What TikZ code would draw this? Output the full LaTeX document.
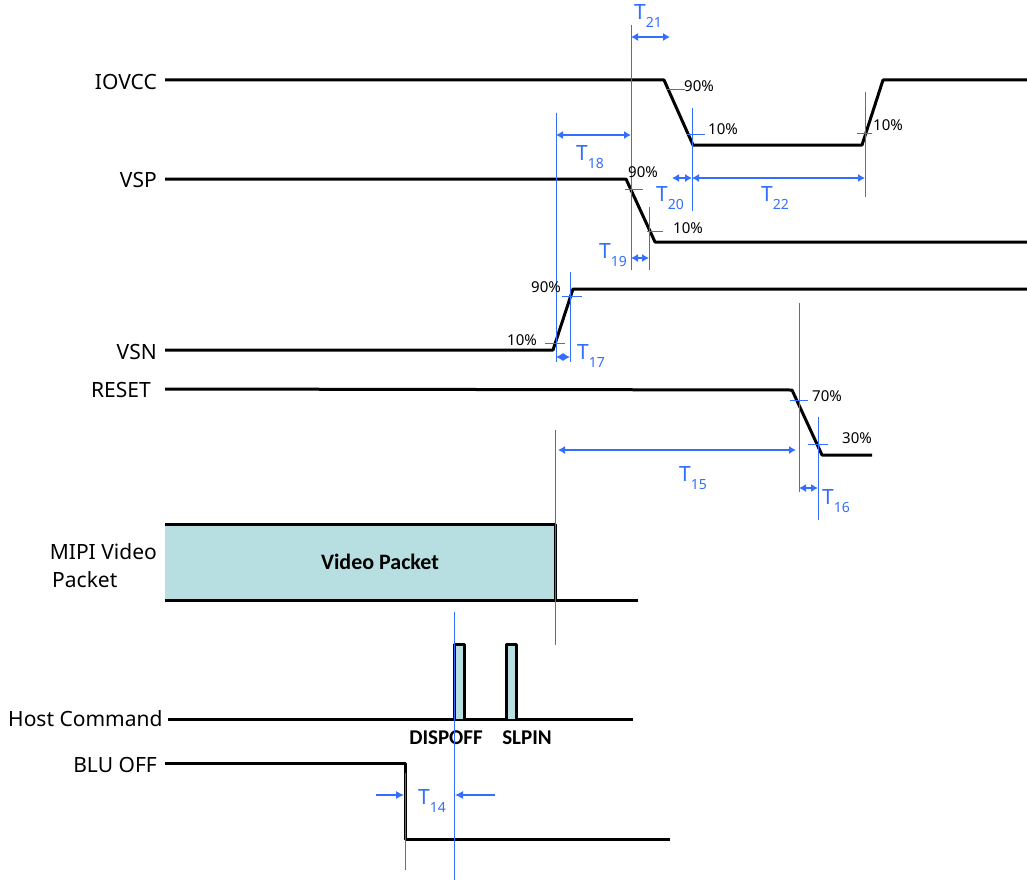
\documentclass[tikz,border=0pt]{standalone}
\usepackage{fontspec}
\setmainfont{Noto Sans}
\newfontfamily\calfont{Carlito}
\usetikzlibrary{arrows.meta}
\definecolor{dimblue}{RGB}{50,110,255}
\definecolor{pkt}{RGB}{183,222,224}
\newcommand\Tlab[1]{T\raisebox{-0.35em}{\fontsize{14}{14}\selectfont #1}}
\begin{document}
\begin{tikzpicture}[x=1pt,y=-1pt,
  sig/.style={draw=black, line width=3pt, line join=round},
  guide/.style={draw=dimblue, line width=1pt},
  tick/.style={draw=dimblue, line width=1pt},
  dim/.style={draw=dimblue, line width=1.2pt, {Latex[length=7pt,width=8pt]}-{Latex[length=7pt,width=8pt]}},
  onearrow/.style={draw=dimblue, line width=1.2pt, -{Latex[length=8pt,width=8pt]}},
  lab/.style={anchor=east, font=\fontsize{21}{24}\selectfont, inner sep=0pt},
  pct/.style={anchor=west, font=\fontsize{15}{17}\selectfont, inner sep=0pt},
  tlab/.style={text=dimblue, font=\fontsize{21}{23}\selectfont, inner sep=0pt},
  cmd/.style={font=\calfont\fontsize{21}{23}\selectfont\bfseries, inner sep=0pt}]
\useasboundingbox (0,0) rectangle (1027,880);

% ---------- signal labels ----------
\node[lab] (lIOVCC) at (157,82) {IOVCC};
\node[lab] (lVSP) at (157,180) {VSP};
\node[lab] (lVSN) at (157,352) {VSN};
\node[lab] (lRESET) at (151,390) {RESET};
\node[lab] (lMIPI) at (157,552) {MIPI Video};
\node[lab, anchor=west] (lPacket) at (52,580) {Packet};
\node[lab, anchor=west] (lHost) at (8,719) {Host Command};
\node[lab] (lBLU) at (157,765) {BLU OFF};

% ---------- coordinates ----------
\coordinate (io0) at (165,80);  \coordinate (io1) at (664,80);
\coordinate (io2) at (693,145); \coordinate (io3) at (862,145);
\coordinate (io4) at (883,80);  \coordinate (io5) at (1027,80);
\coordinate (vp0) at (165,179); \coordinate (vp1) at (626,179);
\coordinate (vp2) at (655,242); \coordinate (vp3) at (1027,242);
\coordinate (vn0) at (165,350); \coordinate (vn1) at (553,350);
\coordinate (vn2) at (573,289); \coordinate (vn3) at (1027,289);
\coordinate (rs0) at (165,389); \coordinate (rs1) at (792,390);
\coordinate (rs2) at (822,455); \coordinate (rs3) at (872,455);
\coordinate (bl0) at (165,763); \coordinate (bl1) at (405,763);
\coordinate (bl2) at (405,839); \coordinate (bl3) at (670,839);

% ---------- signals ----------
\draw[sig] (io0) -- (io1) -- (io2) -- (io3) -- (io4) -- (io5);
\draw[sig] (vp0) -- (vp1) -- (vp2) -- (vp3);
\draw[sig] (vn0) -- (vn1) -- (vn2) -- (vn3);
\draw[sig] (rs0) -- (rs1) -- (rs2) -- (rs3);

% MIPI video packet
\fill[pkt] (165,524) rectangle (555,600);
\draw[sig] (165,524) -- (555,524) -- (555,600);
\draw[sig] (165,600) -- (638,600);
\node[font=\calfont\fontsize{22}{24}\selectfont\bfseries, inner sep=0pt] (vpk) at (380,562) {Video Packet};

% Host command
\draw[sig] (168,719) -- (633,719);
\draw[sig, fill=pkt] (454,719) -- (454,644) -- (464,644) -- (464,719);
\draw[sig, fill=pkt] (506,719) -- (506,644) -- (516,644) -- (516,719);
\node[cmd] (dispoff) at (446,738) {DISPOFF};
\node[cmd] (slpin) at (527,738) {SLPIN};

% BLU OFF
\draw[sig] (bl0) -- (bl1) -- (bl2) -- (bl3);

% ---------- guide lines ----------
\coordinate (g21a) at (631,25);  \coordinate (g21b) at (631,270);
\coordinate (g18a) at (556,113); \coordinate (g18b) at (556,362);
\coordinate (gi1a) at (692,108); \coordinate (gi1b) at (692,211);
\coordinate (gi2a) at (865,92);  \coordinate (gi2b) at (865,197);
\coordinate (gv1a) at (649,207); \coordinate (gv1b) at (649,270);
\coordinate (gn1a) at (570,272); \coordinate (gn1b) at (570,362);
\coordinate (gr1a) at (799,303); \coordinate (gr1b) at (799,492);
\coordinate (gr2a) at (818,417); \coordinate (gr2b) at (818,520);
\coordinate (g15a) at (555,430); \coordinate (g15b) at (555,645);
\coordinate (gdpa) at (454,612); \coordinate (gdpb) at (454,880);
\coordinate (gbla) at (405,773); \coordinate (gblb) at (405,870);
\foreach \a/\b in {g21a/g21b,g18a/g18b,gi1a/gi1b,gi2a/gi2b,gv1a/gv1b,gn1a/gn1b,gr1a/gr1b,gr2a/gr2b,g15a/g15b,gdpa/gdpb,gbla/gblb}
  \draw[guide] (\a) -- (\b);

% ---------- ticks ----------
\draw[tick] (667,90) -- (685,90);
\draw[tick] (687,134) -- (705,134);
\draw[tick] (857,133) -- (872,133);
\draw[tick] (625,189) -- (643,189);
\draw[tick] (647,231) -- (663,231);
\draw[tick] (545,343) -- (565,343);
\draw[tick] (562,296) -- (582,296);
\draw[tick] (790,400) -- (808,400);
\draw[tick] (808,444) -- (828,444);

% ---------- percentage labels ----------
\node[pct] (p1) at (684,86) {90\%};
\node[pct] (p2) at (708,129) {10\%};
\node[pct] (p3) at (873,125) {10\%};
\node[pct] (p4) at (628,172) {90\%};
\node[pct] (p5) at (673,228) {10\%};
\node[pct] (p6) at (531,287) {90\%};
\node[pct] (p7) at (507,340) {10\%};
\node[pct] (p8) at (812,396) {70\%};
\node[pct] (p9) at (842,438) {30\%};

% ---------- dimension arrows ----------
\coordinate (d21a) at (631,37);  \coordinate (d21b) at (670,37);
\coordinate (d18a) at (556,135); \coordinate (d18b) at (631,135);
\coordinate (d20a) at (672,178); \coordinate (d20b) at (692,178);
\coordinate (d22b) at (865,178);
\coordinate (d19a) at (631,258); \coordinate (d19b) at (649,258);
\coordinate (d17a) at (556,357); \coordinate (d17b) at (570,357);
\coordinate (d15a) at (558,450); \coordinate (d15b) at (796,450);
\coordinate (d16a) at (799,488); \coordinate (d16b) at (818,488);
\coordinate (d14a) at (376,795); \coordinate (d14b) at (404,795);
\coordinate (d14c) at (495,795); \coordinate (d14d) at (455,795);
\draw[dim] (d21a) -- (d21b);
\draw[dim] (d18a) -- (d18b);
\draw[dim] (d20a) -- (d20b);
\draw[dim] (d20b) -- (d22b);
\draw[dim] (d19a) -- (d19b);
\draw[dim] (d17a) -- (d17b);
\draw[dim] (d15a) -- (d15b);
\draw[dim] (d16a) -- (d16b);
\draw[onearrow] (d14a) -- (d14b);
\draw[onearrow] (d14c) -- (d14d);

% ---------- timing labels ----------
\node[tlab] (t21) at (648,16) {\Tlab{21}};
\node[tlab] (t18) at (590,157) {\Tlab{18}};
\node[tlab] (t20) at (670,198) {\Tlab{20}};
\node[tlab] (t22) at (775,198) {\Tlab{22}};
\node[tlab] (t19) at (613,255) {\Tlab{19}};
\node[tlab] (t17) at (591,356) {\Tlab{17}};
\node[tlab] (t15) at (693,478) {\Tlab{15}};
\node[tlab] (t16) at (836,501) {\Tlab{16}};
\node[tlab] (t14) at (432,801) {\Tlab{14}};
\end{tikzpicture}
\end{document}
